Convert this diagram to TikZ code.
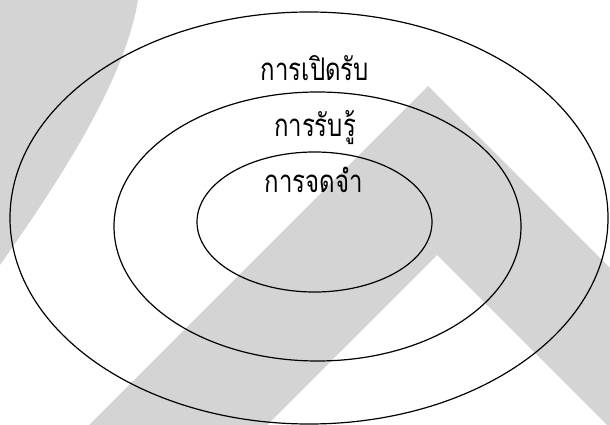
\documentclass[tikz,border=0pt]{standalone}
\usepackage{fontspec}
\newfontfamily\thaifont[Script=Thai]{Loma}
\usetikzlibrary{shapes.geometric}
\definecolor{wmgray}{RGB}{212,212,212}
\newcommand{\tallthai}[1]{\scalebox{1}[1.3]{#1}}
\begin{document}
\begin{tikzpicture}[x=1pt,y=-1pt,
  ring/.style={draw=black,line width=1.2pt,ellipse,inner sep=0pt,outer sep=0pt},
  thaitext/.style={font=\thaifont\fontsize{24}{28}\selectfont,anchor=base,inner sep=0pt}]
\useasboundingbox (0,0) rectangle (610,425);
\begin{scope}
\clip (0,0) rectangle (610,425);
\fill[wmgray] (0,0) -- (138,0) .. controls (125,80) and (60,180) .. (0,265) -- cycle;
\fill[wmgray] (428,86) -- (810,468) -- (650,468) -- (437,255) -- (224,468) -- (46,468) -- cycle;
\end{scope}
\node[ring,minimum width=598pt,minimum height=412pt] (outer) at (309,218) {};
\node[ring,minimum width=407pt,minimum height=269pt] (middle) at (317.5,226.5) {};
\node[ring,minimum width=235pt,minimum height=140pt] (inner) at (314.5,222) {};
\node[thaitext] (t1) at (315,81) {\tallthai{การเปิดรับ}};
\node[thaitext] (t2) at (315,136) {\tallthai{การรับรู้}};
\node[thaitext] (t3) at (314,192) {\tallthai{การจดจำ}};
\end{tikzpicture}
\end{document}
